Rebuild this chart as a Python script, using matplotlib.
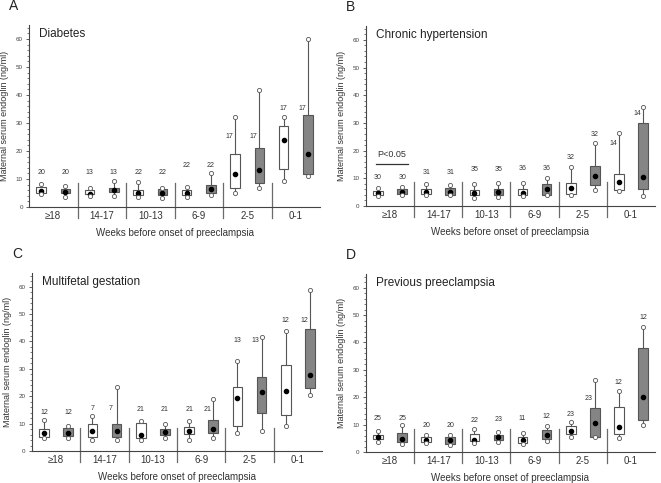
import matplotlib
matplotlib.use("Agg")
import matplotlib.pyplot as plt
from matplotlib.ticker import MultipleLocator

plt.rcParams['font.family'] = ['Liberation Sans', 'DejaVu Sans']

groups = ["≥18", "14-17", "10-13", "6-9", "2-5", "0-1"]

# A - Diabetes  (lo circle, q1, dot, q3, hi circle)
a_white = [[4.5, 4.0, 3.6, 3.6, 5.0, 9.3],
           [4.9, 4.5, 4.2, 4.4, 6.8, 13.4],
           [5.6, 4.8, 5.0, 5.0, 11.7, 23.9],
           [7.0, 6.0, 6.2, 6.1, 19.1, 28.9],
           [8.1, 6.9, 9.0, 7.2, 32.3, 32.3]]
a_gray = [[3.7, 3.9, 3.2, 4.4, 6.8, 11.0],
          [4.9, 5.4, 4.2, 5.0, 8.6, 11.9],
          [5.4, 6.2, 5.0, 6.5, 13.1, 19.1],
          [6.3, 6.9, 6.3, 8.0, 21.0, 32.9],
          [7.4, 9.4, 6.8, 12.3, 41.8, 60.0]]
a_n_white = [20, 13, 22, 22, 17, 17]
a_n_gray = [20, 13, 22, 22, 17, 17]
a_lab_white = [12.2, 12.2, 12.2, 14.7, 25.1, 35.2]
a_lab_gray = [12.2, 12.2, 12.2, 14.7, 25.1, 35.2]

# B - Chronic hypertension
b_white = [[3.5, 4.0, 3.0, 3.5, 3.9, 5.4],
           [4.0, 4.4, 4.1, 3.9, 4.5, 5.7],
           [4.6, 5.0, 4.7, 4.8, 6.5, 8.7],
           [5.4, 6.0, 5.7, 6.3, 8.3, 11.7],
           [6.4, 8.1, 7.9, 8.3, 14.1, 26.2]]
b_gray = [[3.9, 4.0, 3.3, 3.9, 5.6, 3.5],
          [4.5, 4.1, 3.9, 4.1, 7.7, 6.3],
          [5.2, 4.9, 5.1, 6.3, 10.7, 10.5],
          [6.3, 6.4, 6.3, 8.1, 14.5, 30.1],
          [7.0, 7.7, 8.3, 10.1, 22.6, 35.6]]
b_n_white = [30, 31, 35, 36, 32, 14]
b_n_gray = [30, 31, 35, 36, 32, 14]
b_lab_white = [10.3, 12.0, 13.2, 13.5, 17.4, 22.6]
b_lab_gray = [10.3, 12.0, 13.2, 13.5, 26.0, 33.5]

# C - Multifetal gestation
c_white = [[4.6, 4.0, 4.0, 4.1, 6.6, 9.0],
           [5.2, 5.2, 4.6, 6.1, 9.0, 13.2],
           [6.5, 7.2, 6.0, 7.2, 19.4, 21.8],
           [8.2, 9.9, 10.2, 8.7, 23.3, 31.4],
           [11.3, 12.8, 11.1, 11.1, 33.0, 43.9]]
c_gray = [[4.9, 4.0, 4.7, 4.9, 7.2, 20.4],
          [5.4, 5.2, 5.8, 6.7, 13.8, 22.9],
          [6.4, 7.2, 6.8, 7.9, 21.6, 27.6],
          [8.5, 9.9, 8.2, 11.5, 27.0, 44.4],
          [9.1, 23.3, 10.0, 19.1, 41.7, 58.8]]
c_n_white = [12, 7, 21, 21, 13, 12]
c_n_gray = [12, 7, 21, 21, 13, 12]
c_lab_white = [14.0, 15.7, 15.0, 15.0, 40.5, 47.6]
c_lab_gray = [14.0, 15.7, 15.0, 15.0, 40.5, 47.6]

# D - Previous preeclampsia
d_white = [[3.8, 3.2, 3.4, 3.0, 5.5, 5.2],
           [4.6, 3.6, 4.1, 3.2, 6.6, 6.5],
           [5.5, 4.4, 4.5, 4.3, 7.8, 9.0],
           [6.2, 5.5, 6.5, 5.6, 9.6, 16.6],
           [7.8, 6.2, 8.3, 6.8, 11.1, 22.4]]
d_gray = [[2.8, 2.4, 3.5, 4.0, 5.5, 9.8],
          [3.8, 3.0, 4.5, 4.6, 5.6, 11.7],
          [4.9, 4.3, 5.6, 6.3, 10.5, 20.0],
          [7.0, 5.5, 6.3, 8.0, 16.0, 37.9],
          [10.0, 6.1, 7.2, 9.6, 26.4, 45.6]]
d_n_white = [25, 20, 22, 11, 23, 12]
d_n_gray = [25, 20, 23, 12, 23, 12]
d_lab_white = [12.2, 9.8, 11.5, 12.3, 13.8, 25.2]
d_lab_gray = [12.2, 9.8, 11.7, 12.9, 19.4, 49.1]

EDGE = '#555555'
GRAYFILL = '#858585'


def draw_series(ax, stats, ns, labs, fc, off):
    lo, q1, med, q3, hi = stats
    pos = [i + off for i in range(len(groups))]
    bstats = [dict(whislo=lo[i], q1=q1[i], med=med[i], q3=q3[i], whishi=hi[i], fliers=[])
              for i in range(len(groups))]
    ax.bxp(bstats, positions=pos, widths=0.2, patch_artist=True, showcaps=False,
           boxprops=dict(facecolor=fc, edgecolor=EDGE, linewidth=0.8),
           whiskerprops=dict(color=EDGE, linewidth=0.8),
           medianprops=dict(visible=False), manage_ticks=False)
    ax.plot(pos, med, 'o', color='black', ms=3, zorder=4)
    ax.plot(pos, lo, 'o', mfc='white', mec=EDGE, ms=3, mew=0.6, zorder=4)
    ax.plot(pos, hi, 'o', mfc='white', mec=EDGE, ms=3, mew=0.6, zorder=4)
    for i in range(len(groups)):
        x = pos[i]
        if labs[i] < hi[i]:
            # label sits beside the whisker
            x -= 0.12
        ax.text(x, labs[i], str(ns[i]), ha='center', va='center', fontsize=5, color='#333333')


def draw_panel(rect, letter, title, white, gray, nw, ng, lw_, lg_):
    ax = fig.add_axes(rect)
    draw_series(ax, white, nw, lw_, 'white', 0.25)
    draw_series(ax, gray, ng, lg_, GRAYFILL, 0.75)
    ax.set_xlim(0, len(groups))
    ax.set_ylim(0, 65)
    for b in range(1, len(groups)):
        ax.plot([b, b], [-4, 8.5], color='#6a6a6a', lw=0.9, clip_on=False)
    ax.spines['top'].set_visible(False)
    ax.spines['right'].set_visible(False)
    ax.spines['left'].set_color('#444444')
    ax.spines['bottom'].set_color('#444444')
    ax.spines['left'].set_linewidth(0.8)
    ax.spines['bottom'].set_linewidth(0.8)
    ax.set_xticks([i + 0.5 for i in range(len(groups))])
    ax.set_xticklabels(groups, fontsize=7, color='#333333')
    ax.tick_params(axis='x', length=0, pad=3)
    ax.set_yticks(range(0, 61, 10))
    ax.yaxis.set_minor_locator(MultipleLocator(2))
    ax.tick_params(axis='y', labelsize=4.5, length=2.5, width=0.6, pad=2, colors='#444444')
    ax.tick_params(axis='y', which='minor', length=1.3, width=0.5, colors='#444444')
    ax.set_ylabel('Maternal serum endoglin (ng/ml)', fontsize=6.5, labelpad=5, color='#333333')
    ax.set_xlabel('Weeks before onset of preeclampsia', fontsize=7, labelpad=5, color='#333333')
    ax.text(0.035, 0.95, title, transform=ax.transAxes, fontsize=8.5, va='center', ha='left', color='#222222')
    fig.text(rect[0] - 0.03, rect[1] + rect[3] + 0.04, letter, fontsize=10, va='center', ha='left', color='#222222')
    return ax


W, H = 661, 483
fig = plt.figure(figsize=(W / 100, H / 100), dpi=100)

draw_panel([29 / W, 1 - 207 / H, 291 / W, 182 / H], 'A', 'Diabetes',
           a_white, a_gray, a_n_white, a_n_gray, a_lab_white, a_lab_gray)
axb = draw_panel([366 / W, 1 - 206 / H, 289 / W, 180 / H], 'B', 'Chronic hypertension',
                 b_white, b_gray, b_n_white, b_n_gray, b_lab_white, b_lab_gray)
draw_panel([32 / W, 1 - 451 / H, 290 / W, 178 / H], 'C', 'Multifetal gestation',
           c_white, c_gray, c_n_white, c_n_gray, c_lab_white, c_lab_gray)
draw_panel([366 / W, 1 - 452 / H, 289 / W, 178 / H], 'D', 'Previous preeclampsia',
           d_white, d_gray, d_n_white, d_n_gray, d_lab_white, d_lab_gray)

# significance marker in B
axb.plot([0.2, 0.88], [15, 15], color='#333333', lw=0.9)
axb.text(0.54, 18.7, 'P<0.05', ha='center', va='center', fontsize=6.5, color='#333333')

fig.savefig('out.png', dpi=100)
